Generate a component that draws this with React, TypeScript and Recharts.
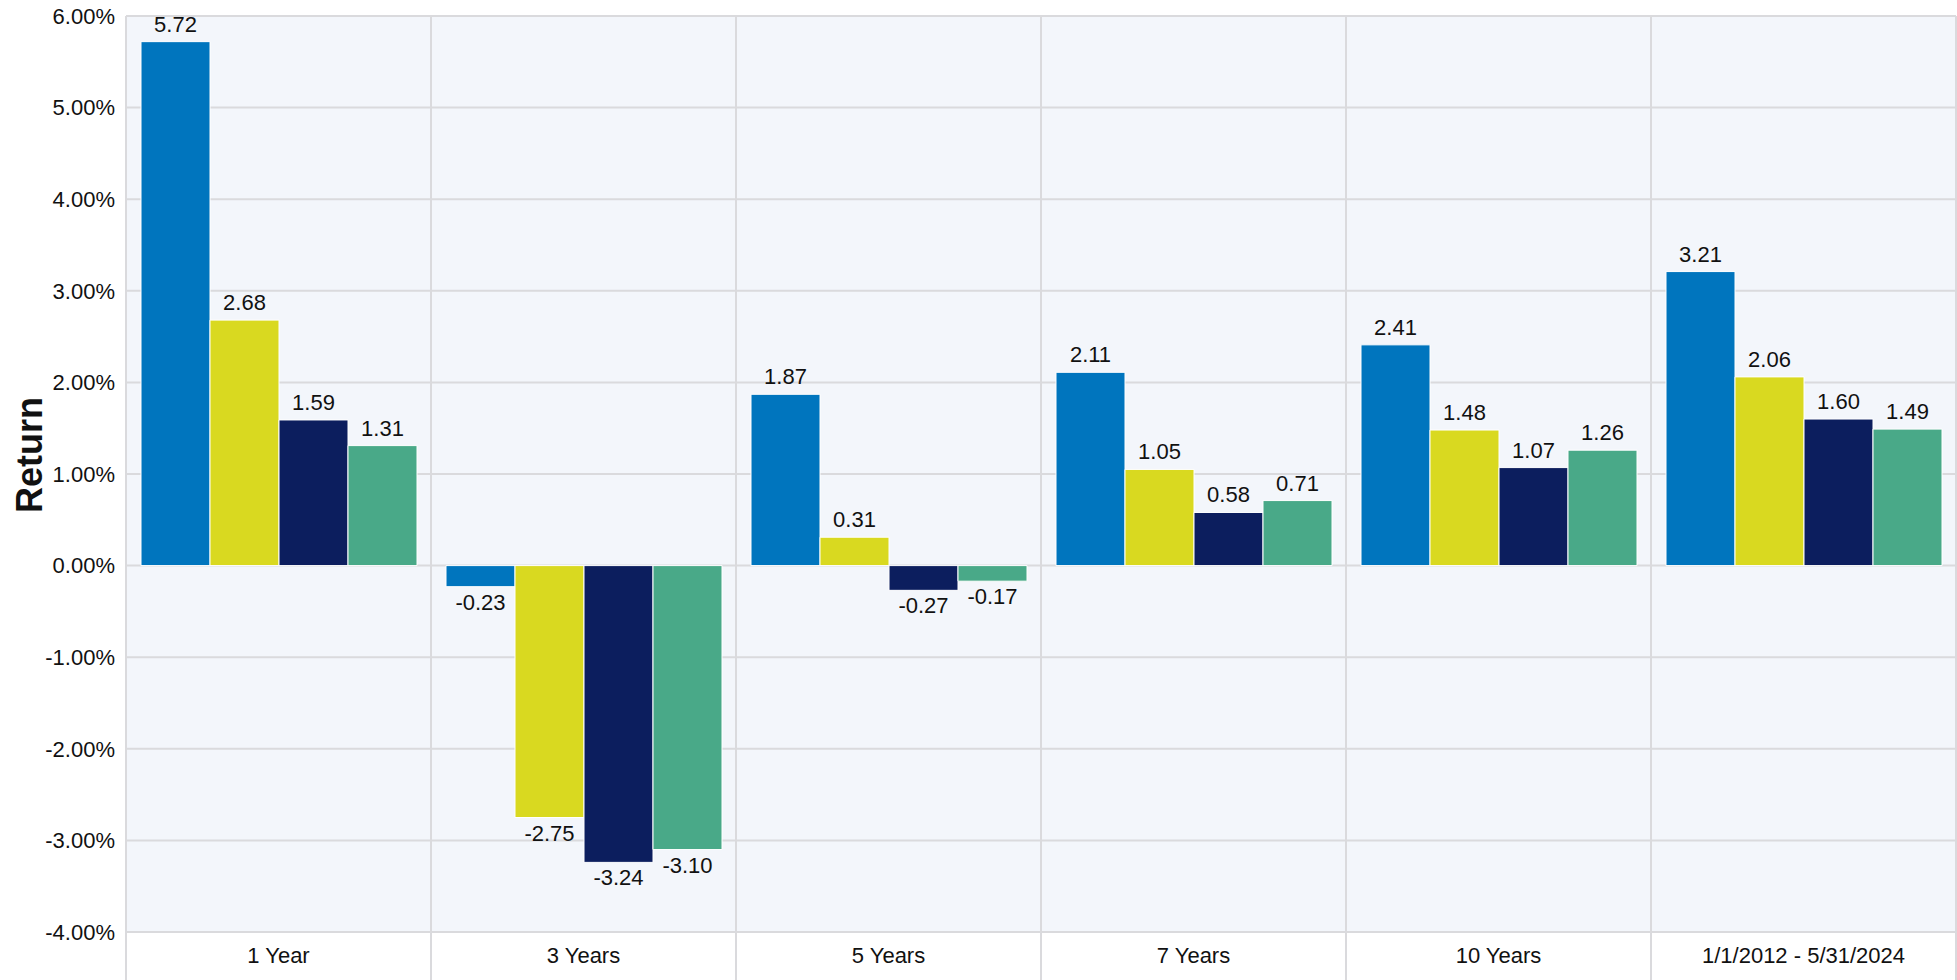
import React from 'react';
import { BarChart, Bar, XAxis, YAxis, CartesianGrid, LabelList } from 'recharts';

const categories = ['1 Year', '3 Years', '5 Years', '7 Years', '10 Years', '1/1/2012 - 5/31/2024'];
const seriesA = [5.72, -0.23, 1.87, 2.11, 2.41, 3.21];
const seriesB = [2.68, -2.75, 0.31, 1.05, 1.48, 2.06];
const seriesC = [1.59, -3.24, -0.27, 0.58, 1.07, 1.6];
const seriesD = [1.31, -3.1, -0.17, 0.71, 1.26, 1.49];
const yTicks = [-4, -3, -2, -1, 0, 1, 2, 3, 4, 5, 6];

const COLORS = ['#0075BE', '#D9D920', '#0C1E5E', '#49A988'];
const GRID = '#DADADD';
const FONT = '"Liberation Sans", Arial, Helvetica, sans-serif';

const data = categories.map((name, i) => ({
  name,
  a: seriesA[i],
  b: seriesB[i],
  c: seriesC[i],
  d: seriesD[i],
}));

const W = 1957;
const H = 980;

const renderLabel = (props: any) => {
  const vb = props.viewBox || {};
  const x = props.x ?? vb.x;
  const y = props.y ?? vb.y;
  const width = props.width ?? vb.width;
  const height = props.height ?? vb.height;
  const value = Number(props.value);
  const cx = x + width / 2;
  const top = Math.min(y, y + height);
  const bottom = Math.max(y, y + height);
  const ty = value >= 0 ? top - 10 : bottom + 23;
  return (
    <text x={cx} y={ty} textAnchor="middle" fontSize={22} fill="#111" fontFamily={FONT}>
      {value.toFixed(2)}
    </text>
  );
};

const XTick = (props: any) => {
  const { x, y, payload } = props;
  const half = payload && payload.offset ? payload.offset : 152.5;
  const last = payload && payload.index === categories.length - 1;
  return (
    <g>
      <line x1={x - half} x2={x - half} y1={y} y2={H} stroke={GRID} strokeWidth={2} />
      {last && <line x1={x + half} x2={x + half} y1={y} y2={H} stroke={GRID} strokeWidth={2} />}
      <text x={x} y={y + 31} textAnchor="middle" fontSize={22} fill="#111" fontFamily={FONT}>
        {payload.value}
      </text>
    </g>
  );
};

const YTitle = (props: any) => {
  const vb = props.viewBox || { x: 0, y: 16, width: 126, height: 916 };
  const x = vb.x + 42;
  const y = vb.y + vb.height / 2 - 19;
  return (
    <text
      x={x}
      y={y}
      transform={`rotate(-90 ${x} ${y})`}
      textAnchor="middle"
      fontSize={36}
      fontWeight="bold"
      fill="#111"
      fontFamily={FONT}
    >
      Return
    </text>
  );
};

export default function App() {
  return (
    <div style={{ width: W, height: H, fontFamily: FONT, background: '#fff' }}>
      <style>{`body{margin:0;}`}</style>
      <BarChart
        width={W}
        height={H}
        data={data}
        margin={{ top: 16, right: 1, bottom: 0, left: 0 }}
        barCategoryGap={15}
        barGap={0}
      >
        <CartesianGrid
          fill="#F3F6FB"
          stroke={GRID}
          strokeWidth={2}
          verticalCoordinatesGenerator={(p: any) => {
            const off = p.offset || { left: 126, width: 1830 };
            const n = categories.length;
            return Array.from({ length: n + 1 }, (_, i) => off.left + (off.width * i) / n);
          }}
        />
        <XAxis
          dataKey="name"
          height={48}
          axisLine={false}
          tickLine={false}
          tickSize={0}
          tickMargin={0}
          interval={0}
          tick={<XTick />}
        />
        <YAxis
          width={126}
          domain={[-4, 6]}
          ticks={yTicks}
          axisLine={false}
          tickLine={false}
          tickSize={0}
          tickMargin={11}
          tick={{ fontSize: 22, fill: '#111', fontFamily: FONT }}
          tickFormatter={(v: number) => `${v.toFixed(2)}%`}
          label={<YTitle />}
          allowDataOverflow
        />
        <Bar dataKey="a" fill={COLORS[0]} stroke="#fff" strokeWidth={1} isAnimationActive={false}>
          <LabelList dataKey="a" content={renderLabel} />
        </Bar>
        <Bar dataKey="b" fill={COLORS[1]} stroke="#fff" strokeWidth={1} isAnimationActive={false}>
          <LabelList dataKey="b" content={renderLabel} />
        </Bar>
        <Bar dataKey="c" fill={COLORS[2]} stroke="#fff" strokeWidth={1} isAnimationActive={false}>
          <LabelList dataKey="c" content={renderLabel} />
        </Bar>
        <Bar dataKey="d" fill={COLORS[3]} stroke="#fff" strokeWidth={1} isAnimationActive={false}>
          <LabelList dataKey="d" content={renderLabel} />
        </Bar>
      </BarChart>
    </div>
  );
}
